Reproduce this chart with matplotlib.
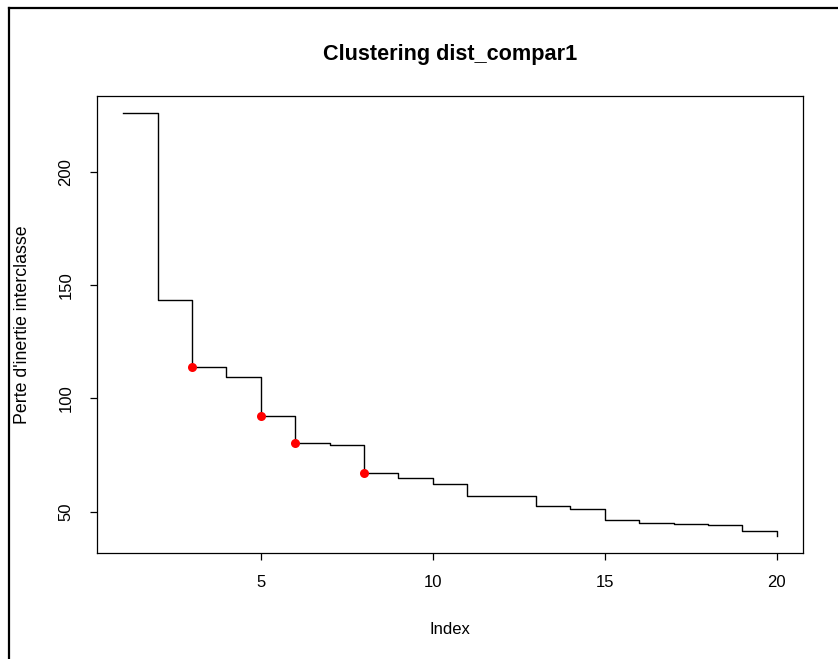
import matplotlib
matplotlib.use("Agg")
import matplotlib.pyplot as plt
from matplotlib.lines import Line2D

plt.rcParams['font.family'] = ['Liberation Sans', 'DejaVu Sans']

# perte d'inertie interclasse pour chaque nombre de classes
index = list(range(1, 21))
perte = [225.9, 143.4, 113.9, 109.2, 92.0, 80.2, 79.3, 67.0, 64.7, 62.2,
         56.9, 56.8, 52.5, 51.0, 46.1, 44.8, 44.7, 44.2, 41.4, 39.2]

# coupures retenues
coupures = [3, 5, 6, 8]
perte_coupures = [perte[i - 1] for i in coupures]

W, H = 838, 659
fig = plt.figure(figsize=(W / 100, H / 100), dpi=100)

left, right, top, bottom = 97, 803, 96, 553
ax = fig.add_axes([left / W, 1 - bottom / H, (right - left) / W, (bottom - top) / H])

ax.step(index, perte, where='post', color='black', lw=1.0)
ax.plot(coupures, perte_coupures, 'o', color='red', markersize=6.5, markeredgewidth=0)

# marges comme dans R (4 %)
xr = max(index) - min(index)
yr = max(perte) - min(perte)
ax.set_xlim(min(index) - 0.04 * xr, max(index) + 0.04 * xr)
ax.set_ylim(min(perte) - 0.04 * yr, max(perte) + 0.04 * yr)

ax.set_xticks([5, 10, 15, 20])
ax.set_yticks([50, 100, 150, 200])
ax.tick_params(direction='out', length=5, width=0.9, labelsize=12, pad=11, colors='black')
ax.tick_params(axis='y', pad=12)
for lab in ax.get_yticklabels():
    lab.set_rotation(90)
    lab.set_va('center')
for sp in ax.spines.values():
    sp.set_linewidth(0.9)

ax.set_title('Clustering dist_compar1', fontsize=15.6, fontweight='bold', pad=26)
ax.set_xlabel('Index', fontsize=12)
ax.set_ylabel("Perte d'inertie interclasse", fontsize=12.8)
ax.xaxis.set_label_coords(0.5, -(630 - bottom) / (bottom - top))
ax.xaxis.label.set_va('center')
ax.yaxis.set_label_coords(-(left - 23) / (right - left), 0.5)
ax.yaxis.label.set_va('center')

# cadre de la capture
fig.add_artist(Line2D([9 / W, 9 / W], [0, 1 - 8 / H], transform=fig.transFigure,
                      color='black', lw=1.6))
fig.add_artist(Line2D([9 / W, 1], [1 - 8 / H, 1 - 8 / H], transform=fig.transFigure,
                      color='black', lw=1.6))

fig.savefig('out.png', dpi=100)
